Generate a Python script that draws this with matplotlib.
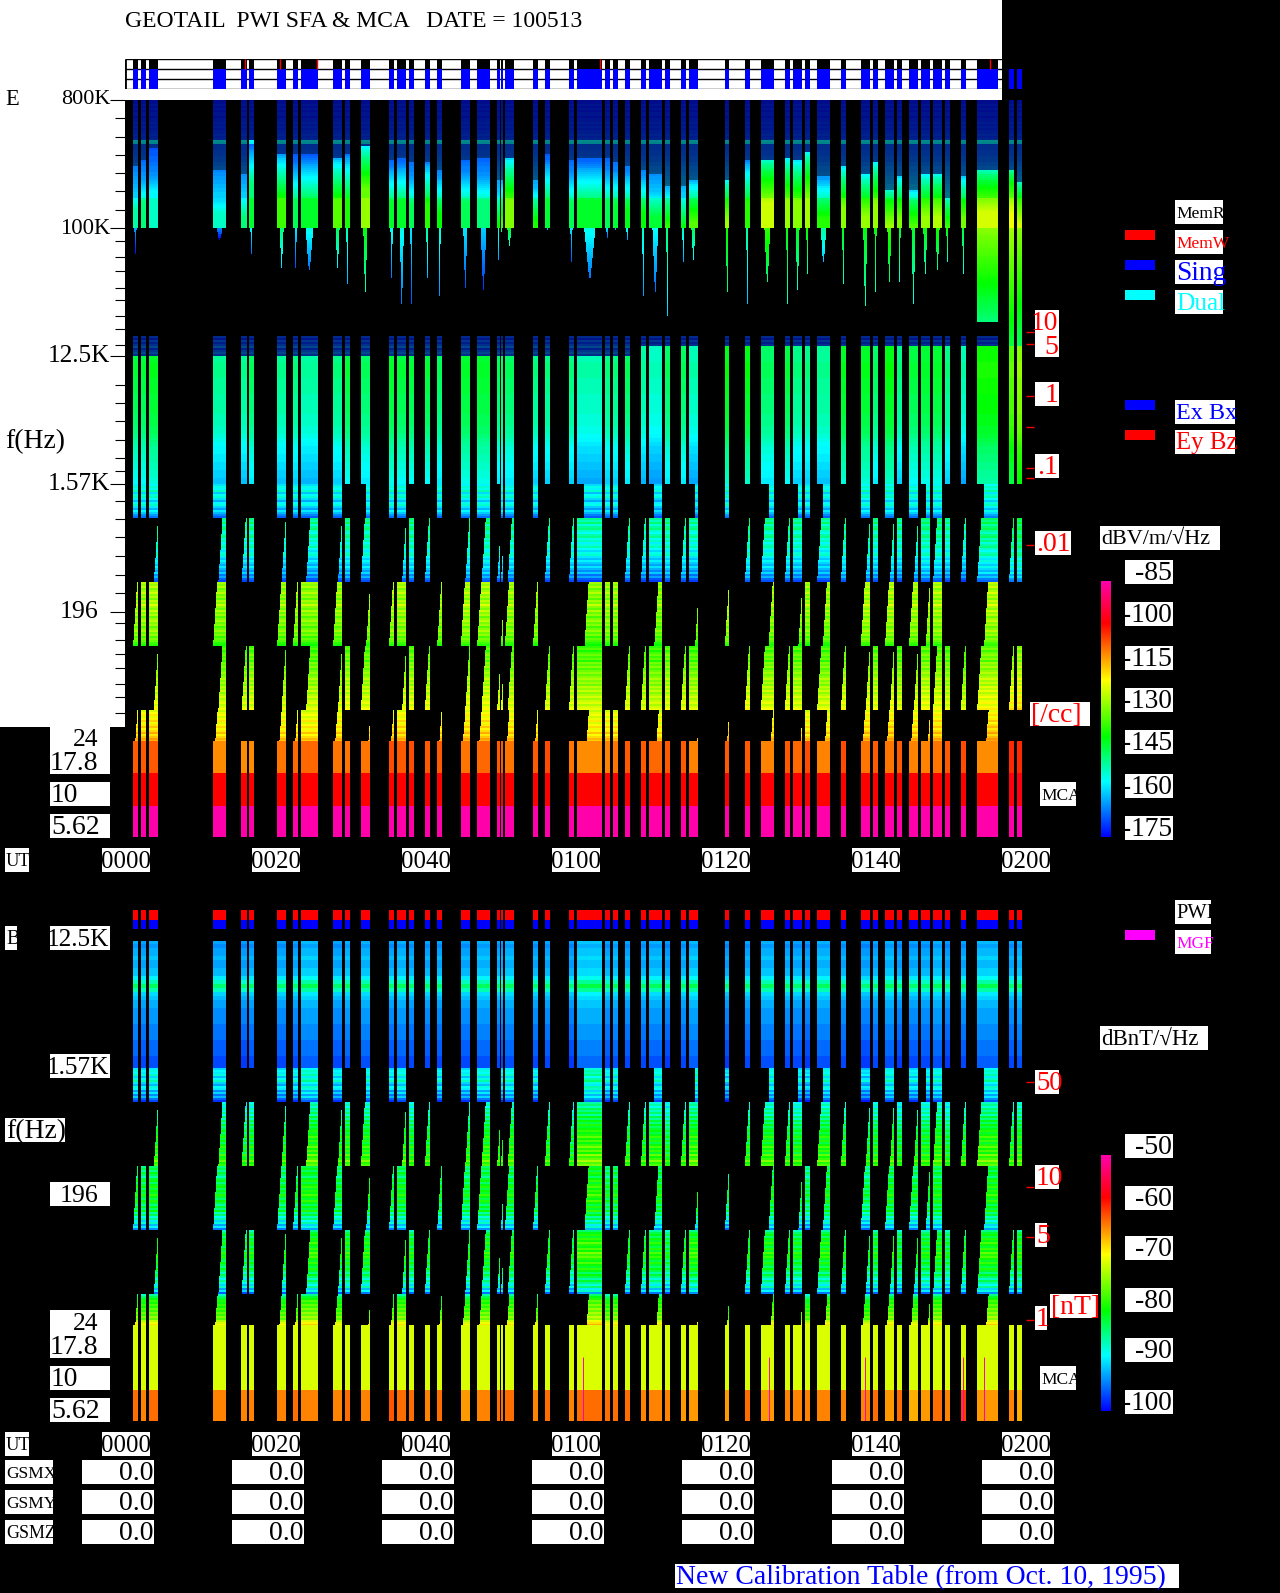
#!/usr/bin/env python3
# GEOTAIL PWI SFA & MCA summary plot, 2010-05-13, 0000-0200 UT
import numpy as np
import matplotlib
matplotlib.use('Agg')
import matplotlib.pyplot as plt
from matplotlib.colors import LinearSegmentedColormap, Normalize
from matplotlib.cm import ScalarMappable
from matplotlib.font_manager import FontProperties
from matplotlib.patches import Rectangle
from matplotlib.textpath import TextPath
from matplotlib.ticker import NullFormatter

nan = float('nan')

# data segments in minutes after 0000 UT
seg_start = [0.94, 1.98, 3.06, 11.61, 15.31, 16.40, 20.15, 22.27, 23.31, 27.61, 29.19, 31.31, 35.06, 36.15,
             37.73, 39.85, 41.49, 44.64, 46.82, 49.49, 49.98, 50.52, 54.27, 55.85, 59.06, 60.15, 63.85, 64.94,
             66.52, 68.64, 69.73, 71.85, 73.98, 75.06, 79.85, 82.52, 84.64, 87.85, 88.94, 90.52, 92.15, 95.31,
             97.97, 99.61, 101.19, 102.82, 104.40, 105.97, 107.61, 109.19, 111.31, 113.49, 117.73, 118.76]
seg_stop = [1.59, 2.68, 4.26, 13.35, 16.07, 17.05, 21.35, 22.98, 25.59, 28.81, 29.84, 32.51, 35.77, 37.40,
            38.38, 40.51, 42.14, 45.84, 48.51, 49.81, 50.25, 51.72, 54.93, 56.51, 59.72, 63.53, 64.51, 65.60,
            67.17, 69.30, 71.42, 72.51, 74.63, 76.26, 80.45, 83.17, 86.38, 88.51, 90.14, 91.17, 93.84, 95.96,
            99.17, 100.26, 102.38, 103.47, 105.59, 107.17, 108.80, 109.84, 111.96, 116.26, 118.38, 119.42]

# when the two alternating low frequency sweeps begin inside each segment
odd_start = [0.94, 1.38, 2.46, 11.61, nan, nan, 20.15, 22.27, 22.71, 27.61, nan, 32.02, 35.06, 35.55,
             nan, nan, 41.49, 44.64, 46.82, nan, 49.98, 50.52, 54.27, nan, nan, 61.13, 63.25, 64.34,
             nan, nan, 70.44, nan, nan, 75.88, 79.85, nan, 85.68, nan, 89.65, 89.92, 92.91, nan,
             97.97, nan, 101.19, nan, 104.40, 106.63, 107.01, nan, nan, 114.41, nan, nan]
even_start = [nan, nan, 3.72, 12.32, 15.42, 15.80, 20.75, nan, 24.02, 28.26, 28.59, 31.31, nan, 36.81,
              37.13, 39.85, nan, 45.24, 47.42, 49.49, 49.98, 50.90, nan, 55.85, 59.06, 59.55, nan, nan,
              66.52, 68.64, 69.13, 71.25, 73.98, 74.46, nan, 82.52, 84.64, 87.85, 88.34, nan, 92.15, 95.31,
              98.63, 99.01, 101.84, 102.22, 105.05, 105.37, 107.61, 108.59, 111.31, 113.49, 117.73, 118.16]

# E field, 100-800 kHz band: where the emission starts (kHz) and its peak (dB)
hf_top_khz = [270, 302, 368, 257, 244, 417, 337, 337, 337, 315, 337, 374, 302, 315, 288, 288, 257, 302, 315,
              218, 218, 315, 218, 337, 302, 315, 310, 288, 270, 257, 244, 195, 195, 218, 218, 302, 302, 315,
              302, 342, 229, 270, 244, 288, 186, 229, 186, 244, 244, 165, 229, 257, 257, 208]
hf_peak_db = [-155, -152, -157, -157, -152, -148, -140, -150, -147, -138, -143, -133, -147, -147, -150, -142,
              -145, -150, -152, -145, -140, -135, -143, -148, -150, -147, -150, -148, -146, -145, -148, -140,
              -144, -138, -132, -142, -129, -133, -134, -132, -142, -134, -133, -133, -129, -135, -135, -133,
              -131, -133, -136, -128, -126, -128]
# lowest frequency reached by the wisps under 100 kHz
wisp_low_khz = [66, 100, 100, 82, 100, 66, 53, 53, 51, 53, 40, 35, 45, 29, 29, 45, 33, 38, 37, 57, 74, 74, 100,
                97, 57, 45, 84, 97, 82, 31, 35, 24, 57, 59, 25, 29, 41, 29, 37, 48, 57, 38, 28, 35, 41, 41, 29,
                48, 51, 57, 45, 22, 12.5, 12.5]
wisp_full = [51, 52, 53]
# E field level under 12.5 kHz and the frequency where the solid part starts
mid_db = [-148, -148, -146, -153, -153, -150, -153, -152, -154, -152, -148, -150, -147, -148, -148, -148, -150,
          -147, -147, -150, -150, -150, -152, -152, -152, -155, -152, -152, -150, -154, -156, -150, -150, -155,
          -145, -145, -150, -148, -152, -152, -153, -146, -146, -150, -145, -152, -148, -147, -147, -152, -155,
          -143, -137, -133]
mid_top_khz = [12.5] * 29 + [14.5] * 25

# mean level per frequency row, top to bottom
hf_blue = [-176, -176, -175, -176, -175, -176, -175, -175, -176, -175, -175, -174, -175, -174, -175, -174,
           -174, -173, -174, -173, -158, -160, -172, -172, -172, -171, -171, -171, -170, -170, -170, -169,
           -169, -168, -168, -168, -167, -167, -166, -166, -165, -165, -164, -164, -163, -163, -162, -162,
           -162, -161, -161, -161, -160, -160, -160, -160, -160, -160, -160, -160, -160, -160, -160, -160]
hf_rise = [-24, -22, -20, -19, -18, -16, -15, -14, -13, -12, -11, -10, -9, -8, -7, -6, -5, -4, -3, -2, -1, 0]
fuzz_rows = [-172, -175, -170, -174, -171, -168, -174, -170, -168]
mid_rows = [1, 1, 2, 2, 2, 2, 1, 1, 1, 1, 0, 0, 0, 0, 0, -1, -1, -1, -2, -2, -3, -4, -5, -6, -6, -7, -7, -8, -8,
            -9, -9, -10, -10]
e_low_rows = [-160, -156, -158, -154, -162, -157, -155, -160, -164, -158, -156, -161, -165, -159, -163, -167, -170,
              -150, -153, -148, -155, -151, -149, -154, -157, -152, -150, -156, -153, -158, -155, -152, -157,
              -160, -156, -154, -159, -162, -158, -161, -164, -159, -163, -166, -161, -168, -164, -170, -172,
              -129, -132, -128, -134, -131, -127, -133, -130, -135, -129, -132, -126, -131, -134, -128, -133,
              -130, -136, -132, -129, -134, -131, -137, -133, -130, -135, -132, -138, -134, -136, -139, -141,
              -138, -135, -140, -136, -133, -137, -134, -139, -132, -135, -131, -136, -133, -130, -134, -131,
              -128, -132, -129, -133, -127, -130, -126, -131, -128, -125, -129, -126, -124, -128, -125, -123,
              -127, -124, -122, -126, -123, -120, -125, -122, -119, -123, -121, -117, -122, -119, -116, -118]
b_high_rows = [-95, -96, -95, -95, -94, -95, -95, -94, -94, -92, -89, -86, -89, -93, -94, -95,
               -95, -96, -96, -96, -96, -97, -97, -97, -97, -98, -98, -98, -98, -99, -99, -99]
b_low_rows = [-93, -91, -92, -90, -94, -91, -89, -93, -95, -91, -92, -96, -93, -97, -94, -98, -100,
              -91, -89, -92, -88, -90, -87, -91, -86, -89, -85, -88, -84, -87, -85, -83, -86,
              -84, -81, -85, -82, -86, -83, -80, -84, -81, -85, -79, -83, -81, -78, -82, -80,
              -87, -85, -88, -84, -86, -89, -85, -83, -87, -84, -82, -86, -83, -85, -81, -84,
              -86, -82, -85, -88, -84, -87, -83, -89, -86, -91, -88, -93, -90, -95, -92, -97,
              -89, -86, -84, -87, -83, -85, -81, -84, -86, -82, -85, -80, -83, -81, -84, -86,
              -82, -85, -87, -83, -86, -89, -85, -88, -91, -87, -90, -93, -89, -95, -92, -98,
              -89, -86, -84, -81, -83, -80, -82, -79, -81, -78, -80, -77, -79, -75, -73, -71]
b_offset = [1, 0, 1, 0, -1, 0, 0, 0, 2, 0, 1, 1, 0, 1, 0, 0, 0, 0, 1, 0, 0, 1, 0, 0, -1, 3, 0, 1, 0, 0, 1, -1,
            0, 2, -1, 0, 1, 0, 0, -1, 1, 0, -1, 0, 1, -1, 0, 0, 1, -1, 0, 2, 0, 1]

# MCA channels
mca_hz = [23.9, 14.2, 8.4, 5.03]
mca_e_178 = [-110, -110, -110, -114, -114, -114, -112, -111, -111, -112, -112, -112, -109, -110, -109, -110, -110,
             -112, -111, -110, -110, -112, -110, -109, -112, -114, -113, -112, -110, -110, -111, -110, -110, -113,
             -110, -110, -113, -110, -111, -109, -113, -109, -112, -110, -112, -110, -113, -113, -112, -110, -109,
             -114, -106, -106]
mca_e_10 = [-103] * 52 + [-102, -102]
mca_e_562 = [-88] * 54
mca_b_178 = [-73] * 54
mca_b_10 = [-73] * 54
mca_b_562 = [-65, -66, -65, -66, -66, -66, -66, -65, -66, -66, -65, -66, -64, -65, -65, -66, -65, -67, -66, -65,
             -65, -65, -66, -65, -66, -65, -65, -65, -65, -66, -66, -66, -67, -67, -67, -65, -67, -66, -66, -66,
             -66, -66, -66, -65, -67, -65, -68, -67, -65, -66, -63, -67, -66, -68]
b_spike_t = [60.90, 85.80, 98.50, 111.60, 114.40]

# header strip marks
memw_t = [15.90, 20.50, 25.40, 63.26, 115.20]

ticks_major_hz = [800e3, 100e3, 12.5e3, 1.57e3, 196]
ticks_minor_hz = [597e3, 437e3, 328e3, 244e3, 182e3, 134e3, 81e3, 62e3, 49.5e3, 38e3, 31e3, 24e3, 19.5e3, 15e3,
                  7800, 5830, 4350, 3200, 2385, 1930, 1185, 885, 662, 485, 357, 266, 163, 124, 98, 79, 60.6, 49, 38]
time_labels = ['0000', '0020', '0040', '0100', '0120', '0140', '0200']
time_minutes = [0, 20, 40, 60, 80, 100, 120]
e_cbar_ticks = [-85, -100, -115, -130, -145, -160, -175]
b_cbar_ticks = [-50, -60, -70, -80, -90, -100]

W, H = 1280, 1593
FONT = 'Liberation Serif'
CHAR_W = 12  # the original font is fixed width

cmap = LinearSegmentedColormap.from_list('sfa', [(0, '#0000ff'), (0.216, '#00ffff'), (0.392, '#00ff00'),
                                                 (0.613, '#ffff00'), (0.835, '#ff0000'), (1, '#ff00aa')])
e_norm = Normalize(-178, -88)
b_norm = Normalize(-102, -52)
font_prop = FontProperties(family=FONT)


def y_to_hz(y):
    # pixel row of the E panel to frequency: 128 px for a factor 8
    return 800e3 * 8.0 ** (-(np.asarray(y, dtype=float) - 100) / 128)


def px_axes(x0, y0, x1, y1):
    ax = fig.add_axes([x0 / W, 1 - y1 / H, (x1 - x0) / W, (y1 - y0) / H])
    ax.patch.set_visible(False)
    for s in ax.spines.values():
        s.set_visible(False)
    ax.set_xticks([])
    ax.set_yticks([])
    return ax


def box(x0, y0, x1, y1, color='w'):
    bg.add_patch(Rectangle((x0, y0), x1 - x0, y1 - y0, fc=color, ec='none', zorder=1))


def label(x, y, s, color='k', ha='left'):
    # pick the size that gives the string its fixed width look
    w = TextPath((0, 0), s, size=10, prop=font_prop).get_extents().width * 100 / 72
    fs = np.clip(10 * CHAR_W * len(s) / max(w, 1), 12.5, 20)
    bg.text(x, y + 1.5, s, color=color, ha=ha, va='center', family=FONT, fontsize=fs, zorder=3)


def boxed(x0, y0, x1, y1, s, color='k', ha='left'):
    box(x0, y0, x1, y1)
    tx = x0 + 1 if ha == 'left' else x1 - 1
    label(tx, (y0 + y1) / 2, s, color, ha)


# columns are 1 px wide, rows 2 px high
t_edges = (np.arange(125, 1024) - 126) / 7.5
t_cent = (t_edges[:-1] + t_edges[1:]) / 2
y_edges = np.arange(100, 743, 2)
y_edges[-1] = 741
y_cent = (y_edges[:-1] + y_edges[1:]) / 2
f_edges = y_to_hz(y_edges)
f_cent = y_to_hz(y_cent)

# top and bottom px, which sweep, left edge slant and shift in minutes
low_blocks = [(484, 518, 'odd', 0.0, 0.0), (518, 582, 'even', 0.55, 0.0), (582, 646, 'odd', 0.55, 0.0),
              (646, 710, 'even', 0.55, 0.0), (710, 741, 'odd', 0.3, 0.3)]


def fill_low(Z, i, cols, low_rows, offset):
    for r, y in enumerate(y_cent):
        if y < 484:
            continue
        for top, bot, kind, slant, shift in low_blocks:
            if top <= y < bot:
                start = odd_start[i] if kind == 'odd' else even_start[i]
                if not np.isnan(start):
                    left = start + shift + slant * (bot - y) / (bot - top)
                    Z[r, cols & (t_cent >= left)] = low_rows[r - 192] + offset


def e_spectrum():
    Z = np.full((len(y_cent), len(t_cent)), np.nan)
    dim = np.full_like(Z, np.nan)  # dotted weak parts, shown by their mean
    for i in range(len(seg_start)):
        cols = (t_cent >= seg_start[i]) & (t_cent < seg_stop[i])
        mid_t = (seg_start[i] + seg_stop[i]) / 2
        half = (seg_stop[i] - seg_start[i]) / 2
        peak = hf_peak_db[i]
        below = 0
        for r, y in enumerate(y_cent):
            f = f_cent[r]
            if y < 228:
                if f > hf_top_khz[i] * 1e3:
                    dim[r, cols] = hf_blue[r]
                else:
                    edge = 2 if f < 165e3 else -2
                    Z[r, cols] = max(peak + hf_rise[min(below, len(hf_rise) - 1)] + edge, hf_blue[r])
                    below += 1
            elif f >= wisp_low_khz[i] * 1e3:
                p = np.log(100e3 / f) / np.log(100e3 / (wisp_low_khz[i] * 1e3))
                if i in wisp_full:
                    Z[r, cols] = peak - 4 - 18 * p
                else:
                    w = half * (0.45 - 0.38 * p)
                    Z[r, cols & (np.abs(t_cent - mid_t) <= w)] = peak - 10 - 12 * p
            elif y >= 336 and f > mid_top_khz[i] * 1e3:
                dim[r, cols] = fuzz_rows[(r - 118) % len(fuzz_rows)]
            if f <= mid_top_khz[i] * 1e3 and y < 484:
                Z[r, cols] = mid_db[i] + mid_rows[max(r - 127, 0) // 2]
        fill_low(Z, i, cols, e_low_rows, 0.25 * (mid_db[i] + 150))
    return Z, dim


def b_spectrum():
    Z = np.full((len(y_cent), len(t_cent)), np.nan)
    for i in range(len(seg_start)):
        cols = (t_cent >= seg_start[i]) & (t_cent < seg_stop[i])
        for r, y in enumerate(y_cent):
            if 357 <= y < 484:
                Z[r, cols] = b_high_rows[min((r - 128) // 2, 31)] + 0.5 * b_offset[i]
        fill_low(Z, i, cols, b_low_rows, b_offset[i])
    return Z


def mca_mesh(rows):
    Z = np.full((3, len(t_cent)), np.nan)
    for i in range(len(seg_start)):
        cols = (t_cent >= seg_start[i]) & (t_cent < seg_stop[i])
        for k in range(3):
            Z[k, cols] = rows[k][i]
    return Z


fig = plt.figure(figsize=(W / 100, H / 100), dpi=100, facecolor='k')

bg = fig.add_axes([0, 0, 1, 1], zorder=0)
bg.set_xlim(0, W)
bg.set_ylim(H, 0)
bg.axis('off')

# white parts of the page
box(0, 0, 1002, 100)
box(0, 100, 125, 727)
label(125, 20, 'GEOTAIL  PWI SFA & MCA   DATE = 100513')

# --- E panel ---
ax_e = px_axes(125, 100, 1050, 837)
ax_e.set_zorder(2)
ax_e.set_yscale('log')
z_e, z_dim = e_spectrum()
ax_e.pcolormesh(t_edges, f_edges, z_dim, cmap=cmap, norm=e_norm, shading='flat', antialiased=False, alpha=0.55)
ax_e.pcolormesh(t_edges, f_edges, z_e, cmap=cmap, norm=e_norm, shading='flat', antialiased=False)
ax_e.pcolormesh(t_edges, mca_hz, mca_mesh([mca_e_178, mca_e_10, mca_e_562]), cmap=cmap, norm=e_norm,
                shading='flat', antialiased=False)
ax_e.set_xlim((125 - 126) / 7.5, (1050 - 126) / 7.5)
ax_e.set_ylim(y_to_hz(837), y_to_hz(100))
ax_e.set_xticks([])
ax_e.set_yticks(ticks_major_hz)
ax_e.set_yticks(ticks_minor_hz, minor=True)
ax_e.yaxis.set_major_formatter(NullFormatter())
ax_e.yaxis.set_minor_formatter(NullFormatter())
ax_e.tick_params(axis='y', which='major', length=10.8, width=0.8, color='k')
ax_e.tick_params(axis='y', which='minor', length=7, width=0.8, color='k')

# --- B panel ---
ax_b = px_axes(125, 941, 1050, 1421)
ax_b.set_zorder(2)
ax_b.set_yscale('log')
ax_b.pcolormesh(t_edges, f_edges, b_spectrum(), cmap=cmap, norm=b_norm, shading='flat', antialiased=False)
ax_b.pcolormesh(t_edges, mca_hz, mca_mesh([mca_b_178, mca_b_10, mca_b_562]), cmap=cmap, norm=b_norm,
                shading='flat', antialiased=False)
ax_b.vlines(b_spike_t, mca_hz[3], mca_hz[1], color='#ff00c0', lw=0.7)
ax_b.set_xlim((125 - 126) / 7.5, (1050 - 126) / 7.5)
ax_b.set_ylim(y_to_hz(837), y_to_hz(357))
ax_b.set_xticks([])
ax_b.set_yticks([])
ax_b.minorticks_off()

# --- strips made from the same segments ---
seg_bars = [(a, b - a) for a, b in zip(seg_start, seg_stop)]
ax_s = px_axes(125, 59, 1050, 89)
ax_s.set_zorder(2)
ax_s.set_xlim((125 - 126) / 7.5, (1050 - 126) / 7.5)
ax_s.set_ylim(3, 0)
ax_s.hlines([0, 1, 2, 3], (125 - 126) / 7.5, (1002 - 126) / 7.5, color='k', lw=1, zorder=1)
ax_s.vlines((125 - 126) / 7.5, 0, 3, color='k', lw=2, zorder=1)
ax_s.broken_barh(seg_bars, (0, 1), facecolors='k', zorder=2)
ax_s.broken_barh(seg_bars, (1, 2), facecolors='#0000ff', zorder=2)
ax_s.vlines(memw_t, 0, 1, color='r', lw=1, zorder=3)

ax_r = px_axes(125, 910, 1050, 929)
ax_r.set_zorder(2)
ax_r.set_xlim((125 - 126) / 7.5, (1050 - 126) / 7.5)
ax_r.set_ylim(2, 0)
ax_r.broken_barh(seg_bars, (0, 1), facecolors='#ff0000')
ax_r.broken_barh(seg_bars, (1, 1), facecolors='#0000ff')

# --- E labels ---
label(5, 98, 'E')
label(110, 98, '800K', ha='right')
label(110, 227, '100K', ha='right')
label(110, 355, '12.5K', ha='right')
label(5, 440, 'f(Hz)')
label(110, 483, '1.57K', ha='right')
label(98, 611, '196', ha='right')
box(50, 727, 110, 774)
label(98, 739, '24', ha='right')
label(50, 762, '17.8')
boxed(50, 782, 110, 806, '10')
boxed(50, 814, 110, 838, '5.62')
boxed(5, 848, 29, 872, 'UT')
for m, s in zip(time_minutes, time_labels):
    x = 126 + 7.5 * m
    box(x - 24, 848, x + 24, 872)
    label(x, 860, s, ha='center')

# --- legends on the right ---
for y0, s, c, bar in [(200, 'MemR', 'k', None), (230, 'MemW', '#ff0000', '#ff0000'),
                      (260, 'Sing', '#0000ff', '#0000ff'), (290, 'Dual', '#00ffff', '#00ffff')]:
    boxed(1175, y0, 1223, y0 + 24, s, c)
    if bar:
        box(1125, y0, 1155, y0 + 10, bar)
for y0, s, c in [(400, 'Ex Bx', '#0000ff'), (430, 'Ey Bz', '#ff0000')]:
    boxed(1175, y0, 1235, y0 + 24, s, c)
    box(1125, y0, 1155, y0 + 10, c)
boxed(1175, 900, 1211, 924, 'PWI')
boxed(1175, 930, 1211, 954, 'MGF', '#ff00ff')
box(1125, 930, 1155, 940, '#ff00ff')

# red density and field scales
red = '#ff0000'
bg.hlines([332, 344, 396, 427, 468, 478, 545, 1082, 1187, 1237, 1320], 1026, 1034, color=red, lw=1, zorder=2)
box(1035, 310, 1059, 357)
label(1058, 322, '10', red, 'right')
label(1058, 346, '5', red, 'right')
boxed(1035, 382, 1059, 406, '1', red, 'right')
boxed(1035, 454, 1059, 478, '.1', red, 'right')
boxed(1035, 531, 1071, 555, '.01', red)
boxed(1030, 702, 1090, 726, '[/cc]', red)
boxed(1040, 782, 1076, 806, 'MCA')
boxed(1035, 1070, 1059, 1094, '50', red)
boxed(1035, 1165, 1059, 1189, '10', red)
boxed(1035, 1223, 1047, 1247, '5', red)
boxed(1035, 1306, 1047, 1330, '1', red)
boxed(1050, 1294, 1098, 1318, '[nT]', red)
boxed(1040, 1366, 1076, 1390, 'MCA')

# colour bars
boxed(1100, 526, 1220, 550, 'dBV/m/\u221aHz')
cax = px_axes(1101, 581, 1111, 837)
fig.colorbar(ScalarMappable(norm=e_norm, cmap=cmap), cax=cax, ticks=[]).outline.set_visible(False)
for v, y0 in zip(e_cbar_ticks, [560, 602, 646, 688, 730, 774, 816]):
    boxed(1125, y0, 1173, y0 + 24, str(v), ha='right')

boxed(1100, 1026, 1208, 1050, 'dBnT/\u221aHz')
cax = px_axes(1101, 1155, 1111, 1411)
fig.colorbar(ScalarMappable(norm=b_norm, cmap=cmap), cax=cax, ticks=[]).outline.set_visible(False)
for v, y0 in zip(b_cbar_ticks, [1134, 1186, 1236, 1288, 1338, 1390]):
    boxed(1125, y0, 1173, y0 + 24, str(v), ha='right')

# --- B labels ---
boxed(5, 926, 17, 950, 'B')
boxed(50, 926, 110, 950, '12.5K', ha='right')
boxed(50, 1054, 110, 1078, '1.57K', ha='right')
boxed(5, 1118, 65, 1142, 'f(Hz)')
box(50, 1182, 110, 1206)
label(98, 1194, '196', ha='right')
box(50, 1310, 110, 1358)
label(98, 1322, '24', ha='right')
label(50, 1346, '17.8')
boxed(50, 1366, 110, 1390, '10')
boxed(50, 1398, 110, 1422, '5.62')
boxed(5, 1432, 29, 1456, 'UT')
for m, s in zip(time_minutes, time_labels):
    x = 126 + 7.5 * m
    box(x - 24, 1432, x + 24, 1456)
    label(x, 1444, s, ha='center')

# orbit rows
for y0, s in [(1460, 'GSMX'), (1490, 'GSMY'), (1520, 'GSMZ')]:
    boxed(5, y0, 53, y0 + 24, s)
    for m in time_minutes:
        x = 126 + 7.5 * m
        boxed(x - 44, y0, x + 28, y0 + 24, '0.0', ha='right')

boxed(675, 1564, 1179, 1588, 'New Calibration Table (from Oct. 10, 1995)', '#0000ff')

fig.savefig('out.png', dpi=100, facecolor='k')
